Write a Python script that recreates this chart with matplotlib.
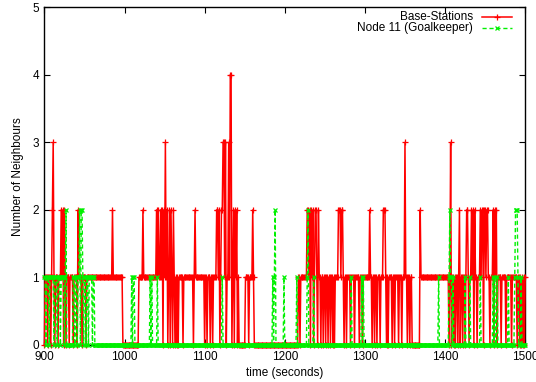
import numpy as np
import matplotlib
matplotlib.use("Agg")
import matplotlib.pyplot as plt

# Step data: (time in s at which the count changes, new count).
bs_steps = [
    (900, 0), (901, 1), (904, 0), (905, 1), (908, 0), (909, 1), (910, 2), (911, 3), (912, 1), (913, 0),
    (914, 1), (917, 0), (918, 1), (921, 2), (922, 1), (923, 2), (924, 0), (925, 2), (926, 1), (927, 0),
    (928, 1), (931, 0), (932, 1), (936, 0), (937, 1), (941, 0), (942, 2), (943, 1), (947, 0), (948, 1),
    (952, 0), (953, 1), (985, 2), (986, 1), (998, 0),
    (1018, 1), (1023, 2), (1024, 1), (1040, 2), (1041, 1), (1042, 2), (1043, 1), (1045, 2), (1046, 1),
    (1047, 2), (1048, 0), (1049, 2), (1050, 1), (1051, 3), (1052, 1), (1053, 2), (1054, 0), (1055, 1),
    (1056, 2), (1057, 0), (1058, 2), (1059, 1), (1060, 0), (1061, 2), (1062, 1), (1063, 0), (1064, 1),
    (1065, 0), (1066, 1), (1067, 0), (1068, 1), (1073, 0), (1074, 1), (1086, 0), (1087, 1), (1088, 2),
    (1089, 1), (1100, 0), (1101, 1), (1103, 0), (1104, 1), (1107, 0), (1108, 1), (1110, 0), (1111, 1),
    (1115, 2), (1117, 1), (1118, 2), (1119, 0), (1120, 1), (1121, 2), (1123, 3), (1125, 1), (1126, 3),
    (1127, 0), (1128, 1), (1130, 3), (1131, 1), (1132, 4), (1134, 0), (1135, 1), (1136, 2), (1137, 0),
    (1138, 2), (1139, 1), (1140, 2), (1141, 0), (1142, 1), (1143, 0), (1151, 1), (1155, 0), (1156, 1),
    (1160, 2), (1161, 1), (1162, 0),
    (1217, 1), (1219, 0), (1220, 1), (1228, 2), (1230, 1), (1231, 2), (1232, 0), (1233, 2), (1234, 1),
    (1235, 2), (1236, 0), (1237, 1), (1238, 2), (1240, 1), (1241, 0), (1242, 2), (1243, 1), (1245, 0),
    (1246, 1), (1248, 0), (1249, 1), (1251, 0), (1252, 1), (1254, 0), (1255, 1), (1257, 0), (1258, 1),
    (1260, 0), (1261, 1), (1262, 0), (1263, 1), (1267, 2), (1270, 1), (1271, 2), (1273, 1), (1274, 0),
    (1275, 1), (1277, 0), (1278, 1), (1282, 0), (1283, 1), (1287, 0), (1288, 1), (1293, 0), (1294, 1),
    (1297, 0), (1298, 1), (1306, 2), (1307, 1), (1309, 0), (1310, 1), (1312, 0), (1313, 1), (1315, 0),
    (1316, 1), (1319, 0), (1320, 1), (1323, 2), (1326, 1), (1327, 0), (1328, 1), (1329, 0), (1330, 1),
    (1334, 0), (1335, 1), (1337, 0), (1338, 1), (1342, 0), (1343, 1), (1346, 0), (1347, 1), (1350, 3),
    (1351, 1), (1353, 0), (1354, 1), (1356, 0), (1357, 1), (1359, 0), (1369, 2), (1370, 1),
    (1405, 0), (1406, 1), (1407, 3), (1408, 0), (1409, 1), (1411, 0), (1412, 1), (1413, 0), (1414, 1),
    (1416, 0), (1417, 1), (1418, 2), (1419, 0), (1420, 1), (1422, 0), (1423, 1), (1425, 0), (1426, 1),
    (1427, 2), (1429, 1), (1430, 0), (1431, 1), (1433, 2), (1434, 1), (1435, 2), (1436, 0), (1437, 2),
    (1438, 1), (1440, 0), (1441, 1), (1444, 2), (1445, 1), (1446, 2), (1448, 0), (1449, 2), (1451, 1),
    (1452, 2), (1454, 1), (1456, 0), (1457, 1), (1460, 2), (1461, 0), (1462, 2), (1463, 1), (1464, 2),
    (1465, 0), (1466, 1), (1470, 0), (1471, 1), (1476, 0), (1477, 1), (1483, 0), (1484, 1), (1490, 0),
    (1491, 1), (1493, 0), (1494, 1), (1495, 0), (1496, 1), (1497, 0), (1498, 1), (1499, 0), (1500, 1),
]

gk_steps = [
    (900, 1), (902, 0), (903, 1), (906, 0), (907, 1), (912, 0), (913, 1), (916, 0), (917, 1), (920, 0),
    (921, 1), (925, 0), (926, 1), (927, 2), (928, 0),
    (936, 1), (938, 0), (939, 1), (941, 0), (942, 1), (944, 2), (945, 0), (946, 2), (948, 1), (949, 0),
    (950, 1), (952, 0), (953, 1), (955, 0), (956, 1), (960, 0), (961, 1), (963, 0),
    (1009, 1), (1010, 0), (1011, 1), (1013, 0), (1032, 1), (1033, 0), (1034, 1), (1035, 0), (1041, 1),
    (1042, 0), (1122, 1), (1123, 0),
    (1185, 1), (1186, 0), (1187, 1), (1188, 2), (1189, 0), (1199, 1), (1200, 0), (1215, 1), (1216, 0),
    (1228, 1), (1229, 2), (1230, 0), (1236, 1), (1237, 0),
    (1283, 1), (1284, 0), (1296, 1), (1297, 0), (1298, 1), (1299, 0), (1392, 1), (1393, 0),
    (1405, 1), (1406, 2), (1407, 1), (1409, 0), (1410, 1), (1411, 0),
    (1425, 1), (1426, 0), (1431, 1), (1432, 0), (1444, 1), (1445, 0), (1460, 1), (1461, 0), (1462, 1),
    (1463, 0), (1465, 1), (1466, 0), (1479, 1), (1480, 0), (1487, 1), (1488, 2), (1491, 1), (1492, 0),
    (1495, 1), (1496, 0),
]

bs_change_t, bs_change_v = map(np.array, zip(*bs_steps))
gk_change_t, gk_change_v = map(np.array, zip(*gk_steps))

# the logger samples once a second, so decode the steps onto that grid
t = np.arange(900, 1501)
bs = bs_change_v[np.searchsorted(bs_change_t, t, side='right') - 1]
gk = gk_change_v[np.searchsorted(gk_change_t, t, side='right') - 1]

plt.rcParams['font.family'] = ['Liberation Sans', 'DejaVu Sans']

fig = plt.figure(figsize=(5.36, 3.82), dpi=100)
ax = fig.add_axes([0.0828, 0.0969, 0.897, 0.884])

red = '#ff0000'
green = '#00f000'
# gnuplot does not clip points sitting on the border, so neither do we
ax.plot(t, bs, color=red, lw=1.1, marker='+', ms=4.5, mew=0.9, clip_on=False, zorder=3)
ax.plot(t, gk, color=green, lw=1.0, ls=(0, (3, 2)), marker='x', ms=3.2, mew=0.9, clip_on=False, zorder=4)

ax.set_xlim(900, 1500)
ax.set_ylim(0, 5)
ax.set_xticks(range(900, 1501, 100))
ax.set_yticks(range(0, 6))
ax.tick_params(direction='in', length=4, width=0.8, top=True, right=True, labelsize=8.5, pad=4)
for s in ax.spines.values():
    s.set_linewidth(1.0)
ax.set_xlabel('time (seconds)', fontsize=8.5, labelpad=3)
ax.set_ylabel('Number of Neighbours', fontsize=8.5, labelpad=6)

# gnuplot-style key: right-justified text, sample line to the right
tr = ax.transAxes
ax.text(0.892, 0.972, 'Base-Stations', ha='right', va='center', fontsize=8.5, transform=tr)
ax.plot([0.91, 0.972], [0.972, 0.972], color=red, lw=1.1, transform=tr, clip_on=False)
ax.plot([0.941], [0.972], color=red, marker='+', ms=4.5, mew=0.9, transform=tr, clip_on=False)
ax.text(0.892, 0.938, 'Node 11 (Goalkeeper)', ha='right', va='center', fontsize=8.5, transform=tr)
ax.plot([0.91, 0.972], [0.938, 0.938], color=green, lw=1.0, ls=(0, (3, 2)), transform=tr, clip_on=False)
ax.plot([0.941], [0.938], color=green, marker='x', ms=3.2, mew=0.9, transform=tr, clip_on=False)

fig.savefig('out.png', dpi=100)
